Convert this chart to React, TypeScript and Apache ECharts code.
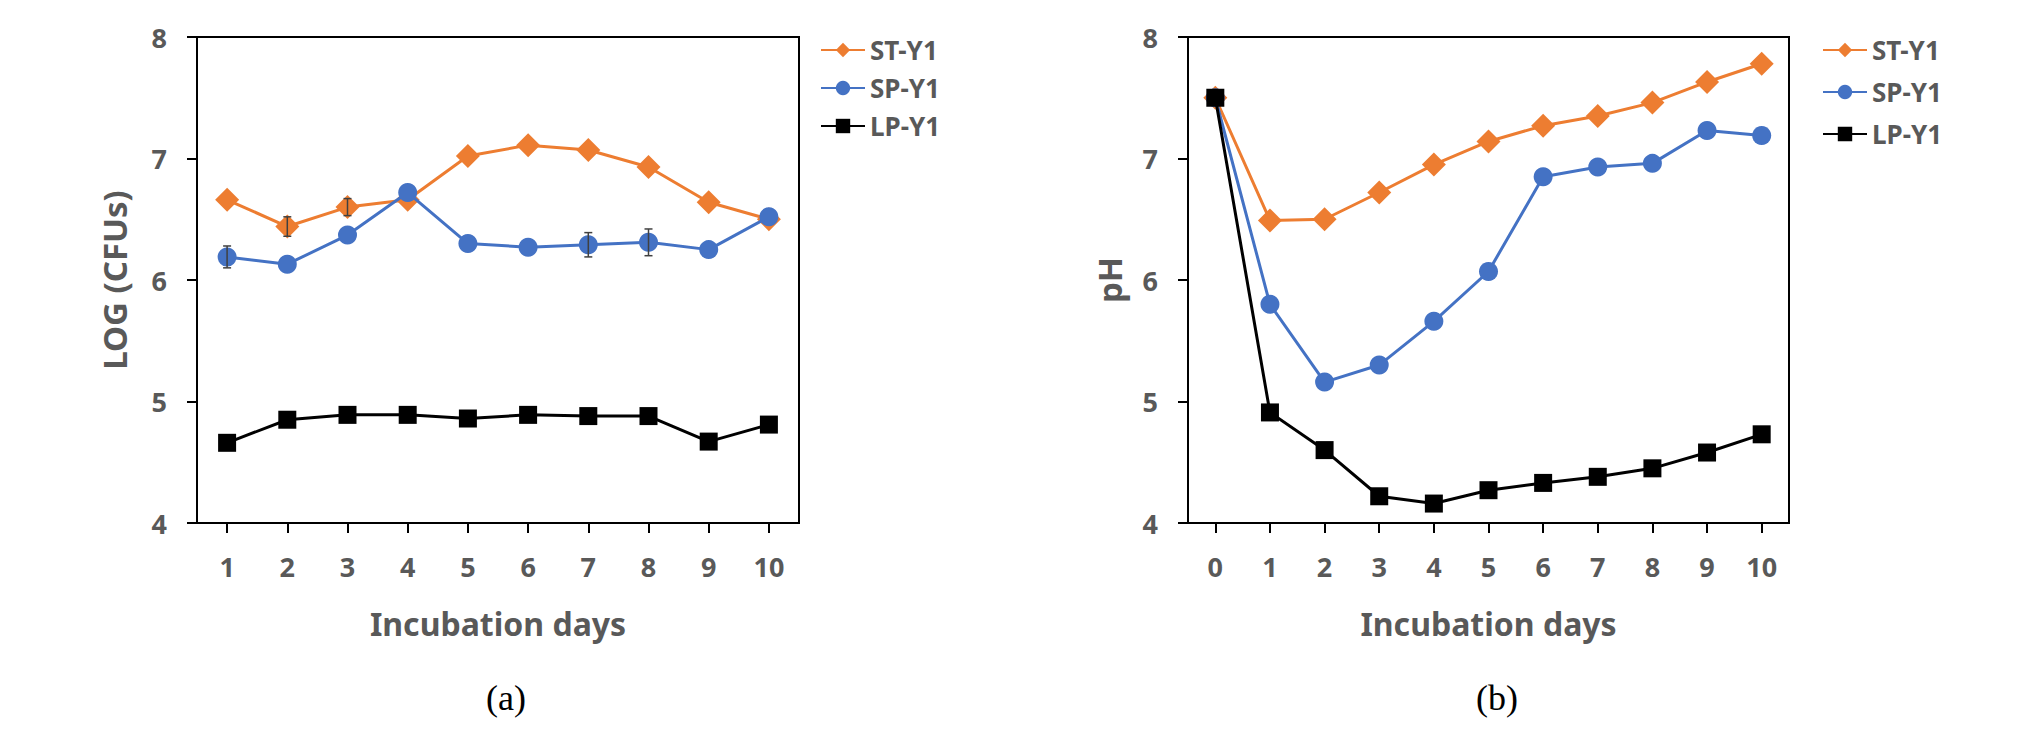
import React, { useEffect, useRef } from "react";
import * as echarts from "echarts";

const daysA = ["1", "2", "3", "4", "5", "6", "7", "8", "9", "10"];
const daysB = ["0", "1", "2", "3", "4", "5", "6", "7", "8", "9", "10"];

// (a) LOG (CFUs)
const stA = [6.66, 6.44, 6.6, 6.66, 7.02, 7.11, 7.07, 6.93, 6.64, 6.5];
const spA = [6.19, 6.13, 6.37, 6.72, 6.3, 6.27, 6.29, 6.31, 6.25, 6.52];
const lpA = [4.66, 4.85, 4.89, 4.89, 4.86, 4.89, 4.88, 4.88, 4.67, 4.81];
const stErrA = [0, 0.08, 0.07, 0, 0, 0, 0, 0, 0, 0];
const spErrA = [0.09, 0, 0, 0, 0, 0, 0.1, 0.11, 0, 0];

// (b) pH
const stB = [7.5, 6.49, 6.5, 6.72, 6.95, 7.14, 7.27, 7.35, 7.46, 7.63, 7.78];
const spB = [7.5, 5.8, 5.16, 5.3, 5.66, 6.07, 6.85, 6.93, 6.96, 7.23, 7.19];
const lpB = [7.5, 4.91, 4.6, 4.22, 4.16, 4.27, 4.33, 4.38, 4.45, 4.58, 4.73];

const seriesNames = ["ST-Y1", "SP-Y1", "LP-Y1"];
const colors = ["#ED7D31", "#4472C4", "#000000"];
const symbols = ["diamond", "circle", "rect"];
const symbolSizes = [24, 19, 18];

const FONT = "Noto Sans";
const GRAY = "#595959";

export default function App() {
  const ref = useRef<HTMLDivElement>(null);
  useEffect(() => {
    if (!ref.current) return;
    const chart = echarts.init(ref.current, undefined, { renderer: "svg" });

    const lineSeries = (name: string, idx: number, data: number[], axis: number) => ({
      type: "line",
      name,
      xAxisIndex: axis,
      yAxisIndex: axis,
      data,
      symbol: symbols[idx],
      symbolSize: symbolSizes[idx],
      showSymbol: true,
      itemStyle: { color: colors[idx] },
      lineStyle: { color: colors[idx], width: 3 },
      emphasis: { disabled: true },
      z: 3 + idx,
    });

    const errSeries = (vals: number[], errs: number[]) => ({
      type: "custom",
      xAxisIndex: 0,
      yAxisIndex: 0,
      z: 10,
      data: vals.map((v, i) => [i, v, errs[i]]).filter((d) => d[2] > 0),
      renderItem: (params: any, api: any) => {
        const x = api.value(0);
        const y = api.value(1);
        const e = api.value(2);
        const hi = api.coord([x, y + e]);
        const lo = api.coord([x, y - e]);
        const w = 4;
        const style = { stroke: "#404040", lineWidth: 1.5 };
        return {
          type: "group",
          children: [
            { type: "line", shape: { x1: hi[0], y1: hi[1], x2: lo[0], y2: lo[1] }, style },
            { type: "line", shape: { x1: hi[0] - w, y1: hi[1], x2: hi[0] + w, y2: hi[1] }, style },
            { type: "line", shape: { x1: lo[0] - w, y1: lo[1], x2: lo[0] + w, y2: lo[1] }, style },
          ],
        };
      },
    });

    const axisText = { color: GRAY, fontFamily: FONT, fontWeight: "bold" as const, fontSize: 27 };
    const xNameText = { color: GRAY, fontFamily: FONT, fontWeight: "bold" as const, fontSize: 32 };
    const yNameText = { color: GRAY, fontFamily: FONT, fontWeight: "bold" as const, fontSize: 33 };
    const axisLine = { show: true, onZero: false, lineStyle: { color: "#000", width: 2 } };
    const axisTick = { show: true, inside: false, length: 10, lineStyle: { color: "#000", width: 2 } };

    const xAxis = (gridIndex: number, data: string[]) => ({
      type: "category",
      gridIndex,
      data,
      boundaryGap: true,
      axisLine,
      axisTick: { ...axisTick, alignWithLabel: true },
      axisLabel: { ...axisText, margin: 30 },
      splitLine: { show: false },
      name: "Incubation days",
      nameLocation: "middle",
      nameGap: 84,
      nameTextStyle: xNameText,
    });
    const yAxis = (gridIndex: number, name: string, gap: number) => ({
      type: "value",
      gridIndex,
      min: 4,
      max: 8,
      interval: 1,
      axisLine,
      axisTick,
      axisLabel: { ...axisText, margin: 30 },
      splitLine: { show: false },
      name,
      nameLocation: "middle",
      nameGap: gap,
      nameRotate: 90,
      nameTextStyle: yNameText,
    });

    const legend = (left: number, gap: number) => ({
      orient: "vertical",
      left,
      top: 32,
      itemWidth: 44,
      itemHeight: 18,
      itemGap: gap,
      data: seriesNames,
      selectedMode: false,
      textStyle: { color: GRAY, fontFamily: FONT, fontWeight: "bold", fontSize: 26 },
    });

    chart.setOption({
      animation: false,
      backgroundColor: "#ffffff",
      grid: [
        { left: 197, top: 37, width: 602, height: 486, show: true, borderColor: "#000", borderWidth: 2, backgroundColor: "transparent" },
        { left: 1188, top: 37, width: 601, height: 486, show: true, borderColor: "#000", borderWidth: 2, backgroundColor: "transparent" },
      ],
      xAxis: [xAxis(0, daysA), xAxis(1, daysB)],
      yAxis: [yAxis(0, "LOG (CFUs)", 66), yAxis(1, "pH", 62)],
      legend: [legend(815, 12), legend(1817, 16)],
      graphic: [
        { type: "text", x: 506, y: 698, style: { text: "(a)", fontFamily: "Liberation Serif", fontSize: 36, fill: "#000", textAlign: "center", textVerticalAlign: "middle" } },
        { type: "text", x: 1497, y: 698, style: { text: "(b)", fontFamily: "Liberation Serif", fontSize: 36, fill: "#000", textAlign: "center", textVerticalAlign: "middle" } },
      ],
      series: [
        lineSeries(seriesNames[0], 0, stA, 0),
        lineSeries(seriesNames[1], 1, spA, 0),
        lineSeries(seriesNames[2], 2, lpA, 0),
        lineSeries(seriesNames[0], 0, stB, 1),
        lineSeries(seriesNames[1], 1, spB, 1),
        lineSeries(seriesNames[2], 2, lpB, 1),
        errSeries(stA, stErrA),
        errSeries(spA, spErrA),
      ],
    });
    return () => chart.dispose();
  }, []);
  return <div ref={ref} style={{ position: "absolute", left: 0, top: 0, width: 2023, height: 733 }} />;
}
